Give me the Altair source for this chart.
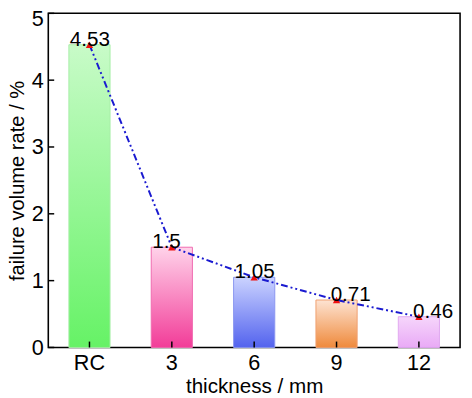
import altair as alt
import pandas as pd

categories = ["RC", "3", "6", "9", "12"]
values = [4.53, 1.5, 1.05, 0.71, 0.46]
y_ticks = [0, 1, 2, 3, 4, 5]

# style: gradient top / bottom colours per bar
top_colors = ["#c8fbc8", "#ffd3ea", "#cbd3ff", "#fde3d2", "#f6d6fb"]
bottom_colors = ["#66f266", "#f23c98", "#5363ee", "#ef8a3c", "#e9aaf6"]
stroke_colors = ["#a8eea8", "#f06bb0", "#8a96f0", "#f0a070", "#e0a8f0"]

df = pd.DataFrame({"cat": categories, "val": values, "label": [str(v) for v in values]})
df["idx"] = range(len(df))
ticks_df = pd.DataFrame({"val": y_ticks})

FONT = "Liberation Sans"
W, H = 419, 340
TICK = 6

xaxis = alt.Axis(title="thickness / mm", labelAngle=0, tickSize=0, domain=False,
                 labelPadding=5, titlePadding=3,
                 labelFont=FONT, labelFontSize=22, labelColor="black",
                 titleFont=FONT, titleFontSize=21, titleFontWeight="normal", titleColor="black")
yaxis = alt.Axis(title="failure volume rate / %", values=y_ticks, format="d",
                 tickSize=0, domain=False, grid=False, labelPadding=5, titlePadding=4,
                 labelOffset={"condition": {"test": "datum.value == 5", "value": 5.5}, "value": 0},
                 labelFont=FONT, labelFontSize=22, labelColor="black",
                 titleFont=FONT, titleFontSize=20.5, titleFontWeight="normal", titleColor="black")

xscale = alt.Scale(paddingInner=0.5, paddingOuter=0.25)
yscale = alt.Scale(domain=[0, 5], nice=False)
xenc = alt.X("cat:N", sort=categories, scale=xscale, axis=xaxis)
yenc = alt.Y("val:Q", scale=yscale, axis=yaxis)

base = alt.Chart(df)
layers = []
for i in range(len(categories)):
    grad = alt.Gradient(gradient="linear",
                        stops=[alt.GradientStop(color=top_colors[i], offset=0),
                               alt.GradientStop(color=bottom_colors[i], offset=1)],
                        x1=0, x2=0, y1=0, y2=1)
    layers.append(
        base.transform_filter(alt.datum.idx == i)
        .mark_bar(fill=grad, stroke=stroke_colors[i], strokeWidth=1)
        .encode(x=xenc, y=yenc)
    )

line = base.mark_line(color="#1a1ad0", strokeWidth=2, strokeDash=[7, 3, 2, 3, 2, 3]).encode(
    x=xenc, y=yenc)
pts = base.mark_point(shape="triangle-up", filled=True, color="#ee1111", size=55, opacity=1).encode(
    x=xenc, y=yenc)

lab1 = base.transform_filter(alt.datum.idx < 3).mark_text(
    align="left", baseline="alphabetic", dx=-20, dy=1, fontSize=21, font=FONT, color="black"
).encode(x=xenc, y=yenc, text="label:N")
lab2 = base.transform_filter(alt.datum.idx >= 3).mark_text(
    align="left", baseline="alphabetic", dx=-6, dy=1, fontSize=21, font=FONT, color="black"
).encode(x=xenc, y=yenc, text="label:N")

# inward ticks
yt = alt.Chart(ticks_df).mark_rule(color="black", strokeWidth=1.5).encode(
    y=yenc, x=alt.value(0), x2=alt.value(TICK))
xt = base.mark_rule(color="black", strokeWidth=1.5).encode(
    x=xenc, y=alt.value(H), y2=alt.value(H - TICK))

chart = alt.layer(*layers, line, pts, lab1, lab2, yt, xt).properties(
    width=W, height=H, autosize="none", background="white",
    padding={"left": 41, "top": 2, "right": 4, "bottom": 48},
).configure_view(stroke="black", strokeWidth=1.6)

chart.save("out.html", embed_options={"renderer": "svg", "actions": False})
